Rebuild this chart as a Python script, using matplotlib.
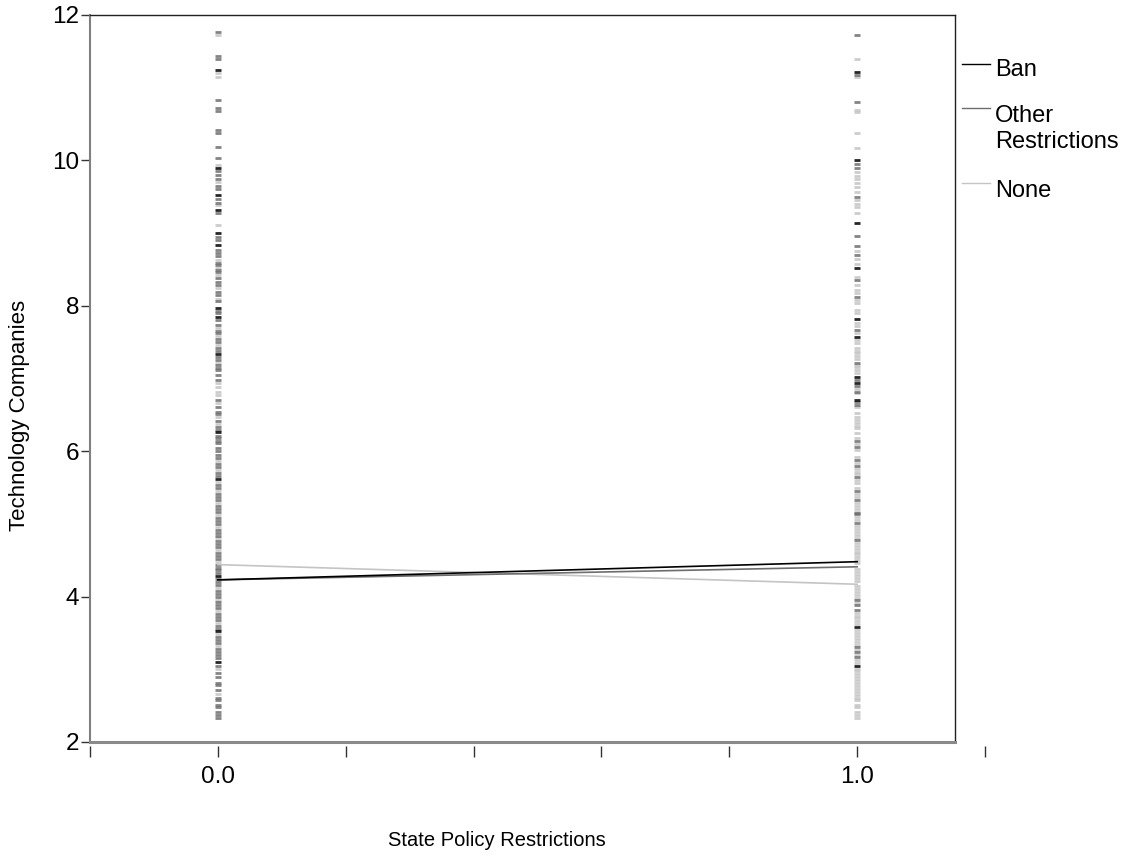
import matplotlib
matplotlib.use("Agg")
import matplotlib.pyplot as plt
from matplotlib.lines import Line2D
import numpy as np

plt.rcParams['font.family'] = ['Liberation Sans', 'DejaVu Sans']

# ---------------- data ----------------
x_positions = [0.0, 1.0]
groups = ["Ban", "Other Restrictions", "None"]
group_colors = ["#000000", "#6e6e6e", "#c4c4c4"]

# fitted means (lines)
ban_means = [4.23, 4.48]
other_means = [4.23, 4.41]
none_means = [4.44, 4.17]

# individual observations at x = 0
ban_x0 = [11.25, 9.90, 9.52, 9.32, 9.00, 8.84, 7.97, 7.85, 7.34, 6.26, 5.62, 4.28, 3.52, 3.10]
none_x0 = [11.73, 11.20, 11.15, 9.94, 9.70, 9.39, 9.11, 8.63, 8.52, 8.42, 8.24, 8.10, 7.70,
           7.58, 7.46, 7.22, 6.94, 6.88, 6.82, 6.77, 6.66, 6.47, 6.38, 5.87, 5.74, 5.58,
           5.45, 5.29, 5.12, 4.96, 4.80, 4.64, 4.48, 4.12, 3.96, 3.80, 3.64, 3.48, 3.32,
           3.00, 2.66]
other_x0 = [11.76, 11.43, 11.39, 10.83, 10.72, 10.68, 10.42, 10.38, 10.19, 10.03, 9.85,
            9.80, 9.75, 9.65, 9.60, 9.47, 9.42, 9.28, 8.95, 8.90, 8.77, 8.72, 8.68, 8.59,
            8.56, 8.49, 8.46, 8.38, 8.33, 8.29, 8.19, 8.15, 8.06, 7.93, 7.90, 7.80, 7.74,
            7.66, 7.62, 7.54, 7.50, 7.42, 7.38, 7.30, 7.26, 7.18, 7.14, 7.12, 7.05, 6.98,
            6.70, 6.61, 6.54, 6.51, 6.42, 6.33, 6.29, 6.21, 6.18, 6.14, 6.11, 6.05, 6.00,
            5.95, 5.91, 5.83, 5.78, 5.70, 5.66, 5.54, 5.49, 5.41, 5.37, 5.33, 5.25, 5.21,
            5.16, 5.08, 5.04, 5.00, 4.92, 4.88, 4.84, 4.76, 4.72, 4.68, 4.60, 4.56, 4.52,
            4.44, 4.40, 4.36, 4.32, 4.24, 4.20, 4.16, 4.08, 4.04, 4.00, 3.92, 3.88, 3.84,
            3.76, 3.72, 3.68, 3.60, 3.56, 3.44, 3.40, 3.36, 3.28, 3.24, 3.20, 3.15, 3.05,
            2.95, 2.89, 2.81, 2.78, 2.72, 2.61, 2.58, 2.51, 2.48, 2.41, 2.37, 2.33]

# individual observations at x = 1
ban_x1 = [11.22, 10.00, 9.14, 8.52, 7.82, 7.57, 7.02, 6.94, 6.70, 3.58, 3.05]
other_x1 = [11.72, 11.18, 10.81, 9.95, 9.90, 9.50, 8.96, 8.82, 8.70, 8.35, 8.12, 7.67,
            7.22, 6.98, 6.90, 6.82, 6.67, 6.64, 6.14, 6.06, 5.88, 5.80, 5.64, 5.45, 5.33,
            5.15, 5.13, 5.01, 4.78, 3.95, 3.88, 3.82, 3.31, 3.24, 3.17]
none_x1 = [11.39, 11.15, 10.69, 10.67, 10.38, 10.17, 9.84, 9.79, 9.74, 9.69, 9.64, 9.57,
           9.45, 9.40, 9.36, 9.28, 8.75, 8.64, 8.58, 8.40, 8.29, 8.22, 8.17, 8.08, 8.04,
           7.94, 7.90, 7.76, 7.72, 7.62, 7.53, 7.49, 7.42, 7.38, 7.35, 7.31, 7.27, 7.18,
           7.16, 7.12, 7.08, 6.86, 6.80, 6.61, 6.52, 6.47, 6.43, 6.39, 6.35, 6.32, 6.25,
           6.18, 6.10, 6.02, 5.92, 5.84, 5.76, 5.72, 5.68, 5.60, 5.56, 5.49, 5.41, 5.37,
           5.29, 5.25, 5.21, 5.17, 5.09, 5.05, 4.97, 4.93, 4.89, 4.85, 4.81, 4.74, 4.70,
           4.66, 4.62, 4.58, 4.54, 4.50, 4.46, 4.38, 4.34, 4.30, 4.26, 4.22, 4.14, 4.10,
           4.06, 4.02, 3.98, 3.91, 3.78, 3.74, 3.70, 3.66, 3.62, 3.54, 3.50, 3.46, 3.42,
           3.38, 3.34, 3.27, 3.20, 3.13, 3.09, 3.01, 2.97, 2.93, 2.89, 2.85, 2.81, 2.77,
           2.73, 2.69, 2.65, 2.61, 2.58, 2.51, 2.48, 2.41, 2.37, 2.33]

x_tick_values = [-0.2, 0.0, 0.2, 0.4, 0.6, 0.8, 1.0, 1.2]
x_tick_labels = ["", "0.0", "", "", "", "", "1.0", ""]
y_tick_values = [2, 4, 6, 8, 10, 12]

# ---------------- figure ----------------
W, H = 1132, 859
fig = plt.figure(figsize=(W / 100, H / 100), dpi=100)
ax = fig.add_axes([90 / W, 1 - 742 / H, (985 - 90) / W, (742 - 15) / H])
ax.set_xlim(-0.2, 1.2)
ax.set_ylim(2, 12)

box_right = 1.1534

# observations as short horizontal dashes
obs = [(0, ban_x0, other_x0, none_x0), (1, ban_x1, other_x1, none_x1)]
for xi, b, o, n in obs:
    for vals, col in ((n, group_colors[2]), (o, group_colors[1]), (b, group_colors[0])):
        ax.plot(np.full(len(vals), x_positions[xi]), vals, ls="none", marker="_",
                ms=4.3, mew=2.0, color=col, alpha=0.85, zorder=2)

# mean lines
ax.plot(x_positions, none_means, color=group_colors[2], lw=1.2, zorder=3)
ax.plot(x_positions, other_means, color=group_colors[1], lw=1.2, zorder=4)
ax.plot(x_positions, ban_means, color=group_colors[0], lw=1.2, zorder=5)

# frame
for s in ("top", "right", "bottom"):
    ax.spines[s].set_visible(False)
ax.spines["left"].set_color("#808080")
ax.spines["left"].set_linewidth(1.5)
ax.spines["bottom"].set_position(("outward", 3))
ax.plot([-0.2, box_right], [12, 12], color="#202020", lw=1.0, clip_on=False, zorder=6)
ax.plot([box_right, box_right], [2, 12], color="#202020", lw=1.0, clip_on=False, zorder=6)
ax.plot([-0.2, box_right], [2, 2], color="#8a8a8a", lw=2.2, clip_on=False, zorder=6)

ax.set_xticks(x_tick_values)
ax.set_xticklabels(x_tick_labels)
ax.set_yticks(y_tick_values)
ax.set_yticklabels([str(v) for v in y_tick_values])
ax.tick_params(axis="x", direction="out", length=8, width=1, color="#333333",
               labelsize=17.5, pad=6)
ax.tick_params(axis="y", direction="out", length=6.5, width=1, color="#333333",
               labelsize=17.5, pad=1.5)

# axis labels
fig.text(497 / W, 1 - 841 / H, "State Policy Restrictions", ha="center", va="center",
         fontsize=14.5)
fig.text(20 / W, 1 - 415 / H, "Technology Companies", ha="center", va="center",
         rotation=90, fontsize=16)

# legend (manual)
leg = [(64, [(76.5, "Ban")]), (108, [(122.5, "Other"), (148.5, "Restrictions")]),
       (183, [(197, "None")])]
for (ly, texts), col in zip(leg, group_colors):
    fig.add_artist(Line2D([962 / W, 990 / W], [1 - ly / H, 1 - ly / H], color=col, lw=1.0))
    for by, t in texts:
        fig.text(995 / W, 1 - by / H, t, ha="left", va="baseline", fontsize=17)

fig.savefig("out.png", dpi=100)
